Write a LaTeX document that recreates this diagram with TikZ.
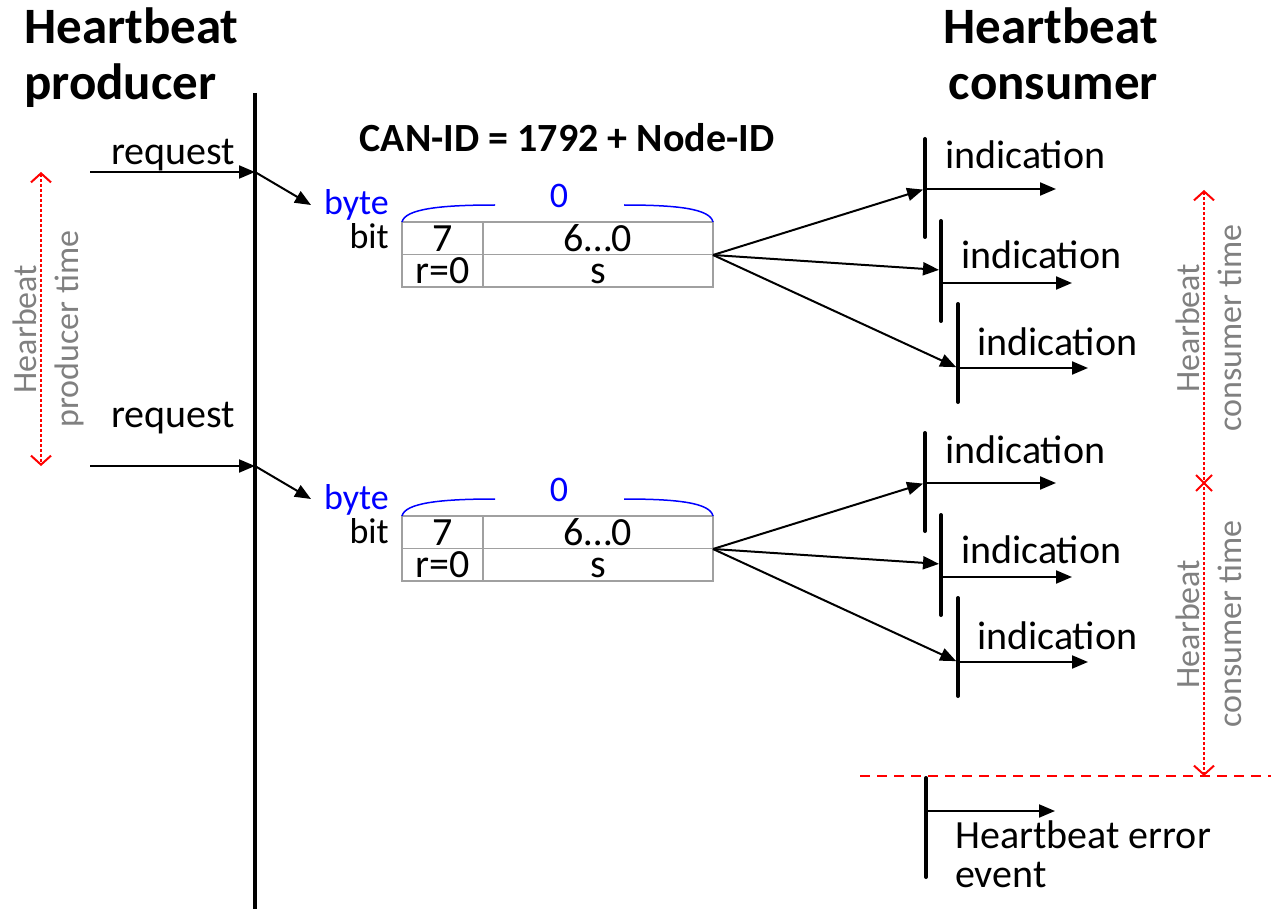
\documentclass[tikz,border=0pt]{standalone}
\usepackage{fontspec}
\setmainfont{Carlito}
\usetikzlibrary{arrows.meta,calc}
\definecolor{labelgray}{RGB}{128,128,128}
\definecolor{framegray}{RGB}{160,160,160}
\begin{document}
\begin{tikzpicture}[x=1pt,y=-1pt,
  txt/.style={font=\fontsize{40}{39}\selectfont, inner sep=0pt},
  ttl/.style={font=\fontsize{51}{56}\selectfont\bfseries, inner sep=0pt},
  lifeline/.style={line width=4pt, line cap=round},
  msg/.style={line width=2pt, -{Triangle[length=16pt,width=13pt]}},
  openbarb/.tip={Straight Barb[length=9pt,width=20pt,line width=2pt]},
  span/.style={red, line width=2pt, dash pattern=on 2.5pt off 2.5pt, {openbarb}-{openbarb}},
  timelbl/.style={text=labelgray, font=\fontsize{34}{42}\selectfont, rotate=90, align=center, inner sep=0pt},
  grid/.style={draw=framegray, line width=1.5pt},
  celltxt/.style={inner sep=0pt, font=\fontsize{40}{40}\selectfont, text height=26pt, text depth=0pt},
  brace/.style={blue, line width=1.5pt},
  bluetxt/.style={text=blue, font=\fontsize{36}{36}\selectfont, inner sep=0pt},
  bittxt/.style={font=\fontsize{36}{36}\selectfont, inner sep=0pt}
]
\useasboundingbox (0,0) rectangle (1271,909);

% titles (base anchor sits on the last line)
\node[ttl, anchor=base west, align=left] (prodtitle) at (24,100) {Heartbeat\\producer};
\node[ttl, anchor=base east, align=right] (constitle) at (1158,100) {Heartbeat\\consumer};
\node[ttl, font=\fontsize{40}{40}\selectfont\bfseries, anchor=base] (canid) at (567,152) {CAN-ID = 1792 + Node-ID};

% producer lifeline
\coordinate (plTop) at (255,93);
\coordinate (plBot) at (255,909);
\draw[lifeline, line cap=butt] (plTop) -- (plBot);

% heartbeat producer time
\coordinate (ptA) at (41,172);
\coordinate (ptB) at (41,466);
\draw[span] (ptA) -- (ptB);
\node[timelbl] (ptlbl) at (48,329) {Hearbeat\\producer time};

% requests
\coordinate (rqaS) at (90,172);
\coordinate (rqaL) at (255,172);
\coordinate (rqaE) at (311,205);
\draw[msg] (rqaS) -- (rqaL);
\draw[msg] (rqaL) -- (rqaE);
\node[txt, anchor=base west] (rqalbl) at (111,165) {request};

\coordinate (rqbS) at (90,466);
\coordinate (rqbL) at (255,466);
\coordinate (rqbE) at (311,499);
\draw[msg] (rqbS) -- (rqbL);
\draw[msg] (rqbL) -- (rqbE);
\node[txt, anchor=base west] (rqblbl) at (111,427) {request};

% two heartbeat frames and their indications
\foreach \dy/\s in {0/a,294/b}{
  \begin{scope}[shift={(0,\dy)}]
    \node[bluetxt, anchor=base east] (byte\s) at (389,215) {byte};
    \node[bittxt, anchor=base east] (bit\s) at (389,249) {bit};
    % frame grid
    \coordinate (fNW\s) at (402,222);
    \coordinate (fSE\s) at (713,287);
    \draw[grid] (fNW\s) rectangle (fSE\s);
    \draw[grid] (402,254.5) -- (713,254.5);
    \draw[grid] (483,222) -- (483,287);
    \node[celltxt] (c7\s) at (442.5,238.25) {7};
    \node[celltxt] (c60\s) at (598,238.25) {6…0};
    \node[celltxt] (cr\s) at (442.5,270.75) {r=0};
    \node[celltxt] (cs\s) at (598,270.75) {s};
    \draw[brace] (fNW\s) .. controls (405,209) and (440,205) .. (495,205);
    \draw[brace] (624,205) .. controls (679,205) and (710,209) .. (713,222);
    \node[bluetxt] (byteno\s) at (559,196) {0};

    \coordinate (fan\s) at (713,255);
    % consumer 1
    \coordinate (k1t\s) at (925,139);
    \coordinate (k1b\s) at (925,237);
    \coordinate (k1i\s) at (925,189);
    \coordinate (k1o\s) at (1056,189);
    \draw[lifeline] (k1t\s) -- (k1b\s);
    \draw[msg, shorten >=2pt] (fan\s) -- (k1i\s);
    \draw[msg] (k1i\s) -- (k1o\s);
    \node[txt, anchor=base west] (ind1\s) at (945,169) {indication};
    % consumer 2
    \coordinate (k2t\s) at (941,221);
    \coordinate (k2b\s) at (941,321);
    \coordinate (k2i\s) at (941,270);
    \coordinate (k2s\s) at (941,283);
    \coordinate (k2o\s) at (1072,283);
    \draw[lifeline] (k2t\s) -- (k2b\s);
    \draw[msg, shorten >=2pt] (fan\s) -- (k2i\s);
    \draw[msg] (k2s\s) -- (k2o\s);
    \node[txt, anchor=base west] (ind2\s) at (961,269) {indication};
    % consumer 3
    \coordinate (k3t\s) at (958,304);
    \coordinate (k3b\s) at (958,402);
    \coordinate (k3i\s) at (958,368);
    \coordinate (k3o\s) at (1088,368);
    \draw[lifeline] (k3t\s) -- (k3b\s);
    \draw[msg, shorten >=2pt] (fan\s) -- (k3i\s);
    \draw[msg] (k3i\s) -- (k3o\s);
    \node[txt, anchor=base west] (ind3\s) at (977,355) {indication};
  \end{scope}
}

% heartbeat consumer time
\coordinate (ctA) at (1204,190);
\coordinate (ctM) at (1204,483);
\coordinate (ctB) at (1204,776);
\draw[span] (ctA) -- (ctB);
\draw[red, line width=2pt] ($(ctM)+(-8,-8)$) -- ($(ctM)+(8,8)$);
\draw[red, line width=2pt] ($(ctM)+(-8,8)$) -- ($(ctM)+(8,-8)$);
\node[timelbl] (ctlblA) at (1209,328) {Hearbeat\\consumer time};
\node[timelbl] (ctlblB) at (1209,624) {Hearbeat\\consumer time};

% timeout line and error event
\coordinate (toL) at (860,776);
\coordinate (toR) at (1271,776);
\draw[red, line width=1.5pt, dash pattern=on 10pt off 7pt] (toL) -- (toR);
\coordinate (eT) at (926,778);
\coordinate (eB) at (926,877);
\coordinate (eI) at (926,811);
\coordinate (eO) at (1055,811);
\draw[lifeline] (eT) -- (eB);
\draw[msg] (eI) -- (eO);
\node[txt, anchor=base west, align=left] (errlbl) at (955,887) {Heartbeat error\\event};
\end{tikzpicture}
\end{document}
